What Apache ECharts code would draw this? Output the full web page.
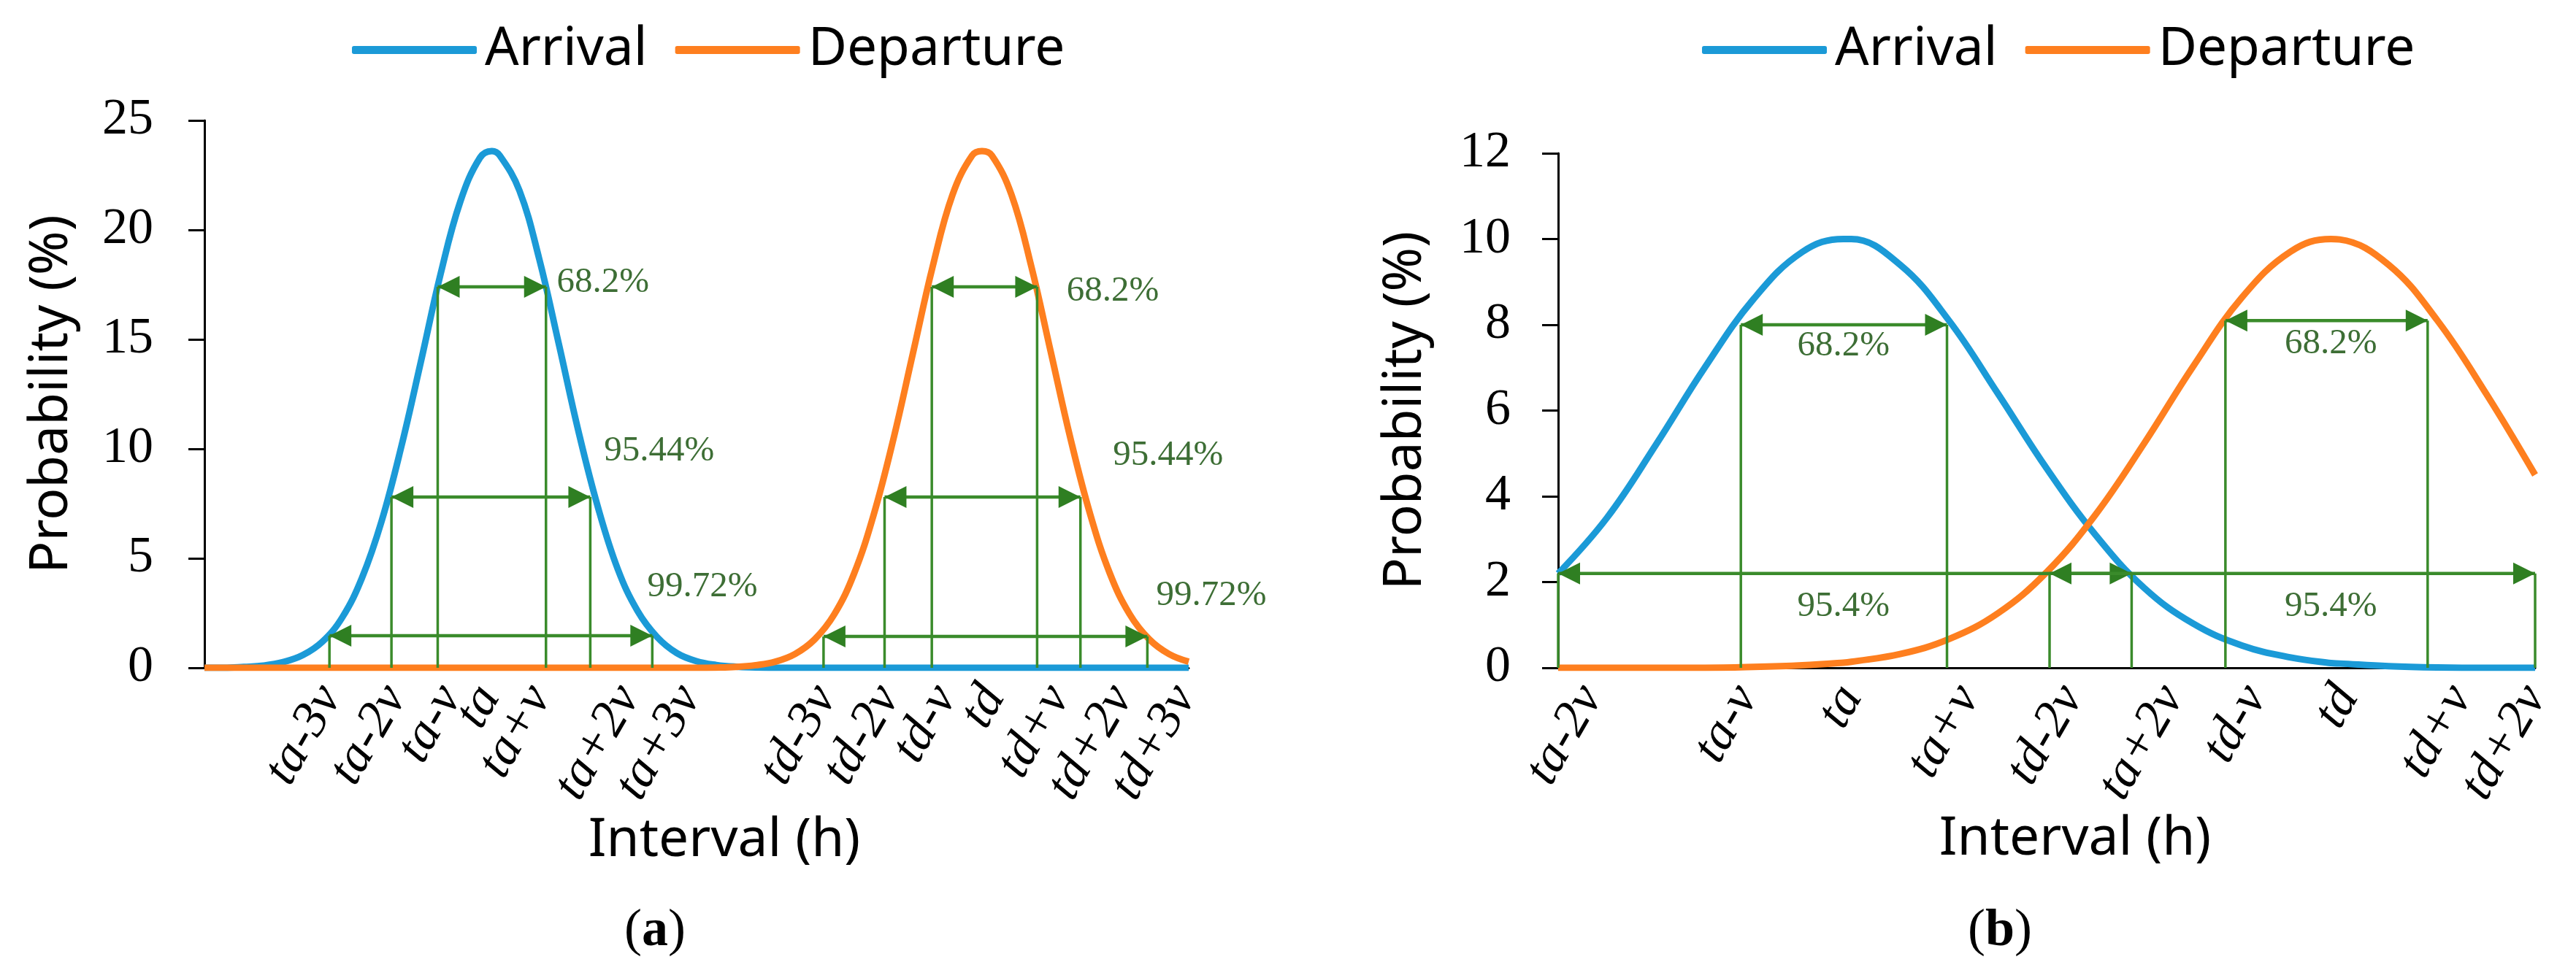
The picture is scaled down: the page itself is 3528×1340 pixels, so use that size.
<!DOCTYPE html>
<html>
<head>
<meta charset="utf-8">
<script src="https://cdn.jsdelivr.net/npm/echarts@6/dist/echarts.min.js"></script>
<style>
html, body { margin: 0; padding: 0; background: #fff; }
#chart { width: 3528px; height: 1340px; }
</style>
</head>
<body>
<div id="chart"></div>
<script>
// panel (a): narrow distributions, x in relative units 0..100
var aX = [0, 2, 4, 6, 8, 10, 12, 14, 16, 18, 20, 22, 24, 26, 28,
  29.2,
  30, 32, 34, 36, 38, 40, 42, 44, 46, 48, 50, 52, 54, 56, 58, 60, 62, 64, 66, 68, 70, 72, 74, 76, 78,
  79,
  80, 82, 84, 86, 88, 90, 92, 94, 96, 98, 100];
var aArrival = [0, 0, 0.04, 0.1, 0.26, 0.58, 1.2, 2.3, 4.1, 6.7, 10.1, 14.0, 18.0, 21.3, 23.3,
  23.6,
  23.4, 21.8, 18.7, 14.8, 10.8, 7.3, 4.5, 2.6, 1.4, 0.67, 0.3, 0.13, 0.05, 0.02, 0, 0, 0, 0, 0, 0, 0, 0, 0, 0, 0,
  0,
  0, 0, 0, 0, 0, 0, 0, 0, 0, 0, 0];
var aDeparture = [0, 0, 0, 0, 0, 0, 0, 0, 0, 0, 0, 0, 0, 0, 0,
  0,
  0, 0, 0, 0, 0, 0, 0, 0, 0, 0, 0, 0.01, 0.04, 0.12, 0.28, 0.63, 1.3, 2.45, 4.3, 7.0, 10.45, 14.4, 18.35, 21.6, 23.4,
  23.6,
  23.4, 21.6, 18.35, 14.4, 10.45, 7.0, 4.3, 2.45, 1.3, 0.63, 0.28];

// where each rotated tick label ends (its own spot, not always on the guide line)
var aTickPos = [12.8, 19.4, 25.0, 28.9, 34.1, 43.1, 49.3, 63.1, 69.5, 75.3, 80.2, 86.8, 93.2, 99.6];
var aTickText = ['ta-3v', 'ta-2v', 'ta-v', 'ta', 'ta+v', 'ta+2v', 'ta+3v',
  'td-3v', 'td-2v', 'td-v', 'td', 'td+v', 'td+2v', 'td+3v'];

// [from, to, level] of each double arrow
var aSpans = [[23.7, 34.7, 17.4], [19.0, 39.2, 7.8], [12.7, 45.5, 1.47],
  [73.9, 84.6, 17.4], [69.1, 89.0, 7.8], [62.9, 95.8, 1.43]];
var aPctPos = [[35.8, 17.6], [40.6, 9.9], [45.0, 3.7], [87.6, 17.2], [92.3, 9.7], [96.7, 3.3]];
var aPctText = ['68.2%', '95.44%', '99.72%', '68.2%', '95.44%', '99.72%'];

// panel (b): wide distributions
var bX = [0, 5, 10, 15, 20, 25, 29.2, 30, 35, 40, 45, 50, 55, 60, 65, 70, 75, 79.1, 80, 85, 90, 95, 100];
var bArrival = [2.2, 3.5, 5.2, 7.0, 8.6, 9.7, 10.0, 10.0, 9.4, 8.1, 6.4, 4.65, 3.1, 1.86, 1.03, 0.52, 0.24, 0.11, 0.1, 0.04, 0.01, 0, 0];
var bDeparture = [0, 0, 0, 0, 0.02, 0.06, 0.12, 0.14, 0.32, 0.67, 1.27, 2.23, 3.57, 5.24, 7.03, 8.64, 9.71, 10.0, 9.99, 9.4, 8.1, 6.39, 4.5];

var bTickPos = [3.4, 19.3, 30.0, 42.0, 52.6, 62.9, 71.4, 80.8, 92.4, 100];
var bTickText = ['ta-2v', 'ta-v', 'ta', 'ta+v', 'td-2v', 'ta+2v', 'td-v', 'td', 'td+v', 'td+2v'];

var bSpans = [[18.7, 39.8, 8.0], [68.3, 89.0, 8.1], [0, 58.7, 2.2], [50.3, 100, 2.2]];
var bPctPos = [[29.2, 7.5], [79.1, 7.55], [29.2, 1.43], [79.1, 1.43]];
var bPctText = ['68.2%', '68.2%', '95.4%', '95.4%'];

var BLUE = '#1b9ad7';
var ORANGE = '#fe7f1f';
var GREEN = '#3a8b2b';
var GREEN_HEAD = '#2f7f22';
var GREEN_TEXT = '#3d6e35';
var SERIF = '"Liberation Serif", "Times New Roman", serif';
var SANS = '"Noto Sans", sans-serif';

function pairs(xs, ys) {
  return xs.map(function (x, i) { return [x, ys[i]]; });
}

function nearest(list, v) {
  var best = 0;
  for (var i = 1; i < list.length; i++) {
    if (Math.abs(list[i] - v) < Math.abs(list[best] - v)) best = i;
  }
  return best;
}

function xAxisFor(gi, pos, text) {
  return {
    type: 'value', gridIndex: gi, min: 0, max: 100,
    axisLine: { show: true, onZero: false, lineStyle: { color: '#000', width: 3 } },
    axisTick: { show: false },
    splitLine: { show: false },
    axisLabel: {
      customValues: pos, rotate: 60, margin: 30, hideOverlap: false,
      fontFamily: SERIF, fontStyle: 'italic', fontSize: 70, color: '#000',
      formatter: function (v) { return text[nearest(pos, v)]; }
    }
  };
}

function yAxisFor(gi, max, interval, margin) {
  return {
    type: 'value', gridIndex: gi, min: 0, max: max, interval: interval,
    name: 'Probability (%)', nameLocation: 'middle', nameGap: 172,
    nameTextStyle: { fontFamily: SANS, fontSize: 73, color: '#000' },
    axisLine: { show: true, lineStyle: { color: '#000', width: 3 } },
    axisTick: { show: true, length: 22, lineStyle: { color: '#000', width: 3 } },
    splitLine: { show: false },
    axisLabel: { margin: margin, fontFamily: SERIF, fontSize: 70, color: '#000' }
  };
}

function curve(name, gi, xs, ys, color) {
  return {
    name: name, type: 'line', xAxisIndex: gi, yAxisIndex: gi,
    data: pairs(xs, ys), smooth: 0.4,
    showSymbol: false, symbol: 'none', silent: true,
    lineStyle: { color: color, width: 9 }, itemStyle: { color: color },
    z: 2
  };
}

function renderSpan(params, api) {
  var x1 = api.value(0), x2 = api.value(1), y = api.value(2);
  var p1 = api.coord([x1, y]), p2 = api.coord([x2, y]);
  var b1 = api.coord([x1, 0]), b2 = api.coord([x2, 0]);
  var L = 30, W = 15;
  return {
    type: 'group',
    children: [
      { type: 'line', shape: { x1: b1[0], y1: b1[1], x2: p1[0], y2: p1[1] }, style: { stroke: GREEN, lineWidth: 3.5 } },
      { type: 'line', shape: { x1: b2[0], y1: b2[1], x2: p2[0], y2: p2[1] }, style: { stroke: GREEN, lineWidth: 3.5 } },
      { type: 'line', shape: { x1: p1[0], y1: p1[1], x2: p2[0], y2: p2[1] }, style: { stroke: GREEN, lineWidth: 4.5 } },
      { type: 'polygon', shape: { points: [[p1[0], p1[1]], [p1[0] + L, p1[1] - W], [p1[0] + L, p1[1] + W]] }, style: { fill: GREEN_HEAD } },
      { type: 'polygon', shape: { points: [[p2[0], p2[1]], [p2[0] - L, p2[1] - W], [p2[0] - L, p2[1] + W]] }, style: { fill: GREEN_HEAD } }
    ]
  };
}

function spanSeries(gi, spans) {
  return {
    type: 'custom', xAxisIndex: gi, yAxisIndex: gi, silent: true, clip: false, z: 3,
    encode: { x: [0, 1], y: 2 },
    data: spans, renderItem: renderSpan
  };
}

function pctSeries(gi, pos, text, align) {
  return {
    type: 'custom', xAxisIndex: gi, yAxisIndex: gi, silent: true, clip: false, z: 4,
    data: pos,
    renderItem: function (params, api) {
      var p = api.coord([api.value(0), api.value(1)]);
      return {
        type: 'text', x: p[0], y: p[1],
        style: {
          text: text[params.dataIndex], fill: GREEN_TEXT,
          fontFamily: SERIF, fontSize: 49, align: align, verticalAlign: 'middle'
        }
      };
    }
  };
}

function legendAt(left) {
  return {
    left: left, top: 32, padding: 0, itemGap: 38, itemWidth: 171, itemHeight: 11,
    icon: 'roundRect', data: ['Arrival', 'Departure'],
    textStyle: { fontFamily: SANS, fontSize: 73, color: '#000', padding: [0, 0, 0, 6] }
  };
}

function caption(x, y, text) {
  return {
    type: 'text', x: x, y: y,
    style: { text: text, fontFamily: SANS, fontSize: 73, fill: '#000', align: 'center', verticalAlign: 'middle' }
  };
}

function panelTag(x, y, letter) {
  return {
    type: 'text', x: x, y: y,
    style: {
      text: '({b|' + letter + '})', fontFamily: SERIF, fontSize: 72, fill: '#000',
      align: 'center', verticalAlign: 'middle',
      rich: { b: { fontFamily: SERIF, fontSize: 72, fontWeight: 'bold', fill: '#000' } }
    }
  };
}

var chart = echarts.init(document.getElementById('chart'), null, { renderer: 'canvas' });

chart.setOption({
  backgroundColor: '#fff',
  animation: false,
  legend: [legendAt(482), legendAt(2331)],
  grid: [
    { left: 280, top: 165, width: 1348, height: 750, containLabel: false, outerBoundsMode: 'none' },
    { left: 2134, top: 210, width: 1338, height: 705, containLabel: false, outerBoundsMode: 'none' }
  ],
  xAxis: [xAxisFor(0, aTickPos, aTickText), xAxisFor(1, bTickPos, bTickText)],
  yAxis: [yAxisFor(0, 25, 5, 70), yAxisFor(1, 12, 2, 65)],
  series: [
    curve('Arrival', 0, aX, aArrival, BLUE),
    curve('Departure', 0, aX, aDeparture, ORANGE),
    curve('Arrival', 1, bX, bArrival, BLUE),
    curve('Departure', 1, bX, bDeparture, ORANGE),
    spanSeries(0, aSpans),
    spanSeries(1, bSpans),
    pctSeries(0, aPctPos, aPctText, 'left'),
    pctSeries(1, bPctPos, bPctText, 'center')
  ],
  graphic: [
    caption(992, 1152, 'Interval (h)'),
    caption(2842, 1150, 'Interval (h)'),
    panelTag(897, 1276, 'a'),
    panelTag(2739, 1276, 'b')
  ]
});
</script>
</body>
</html>
